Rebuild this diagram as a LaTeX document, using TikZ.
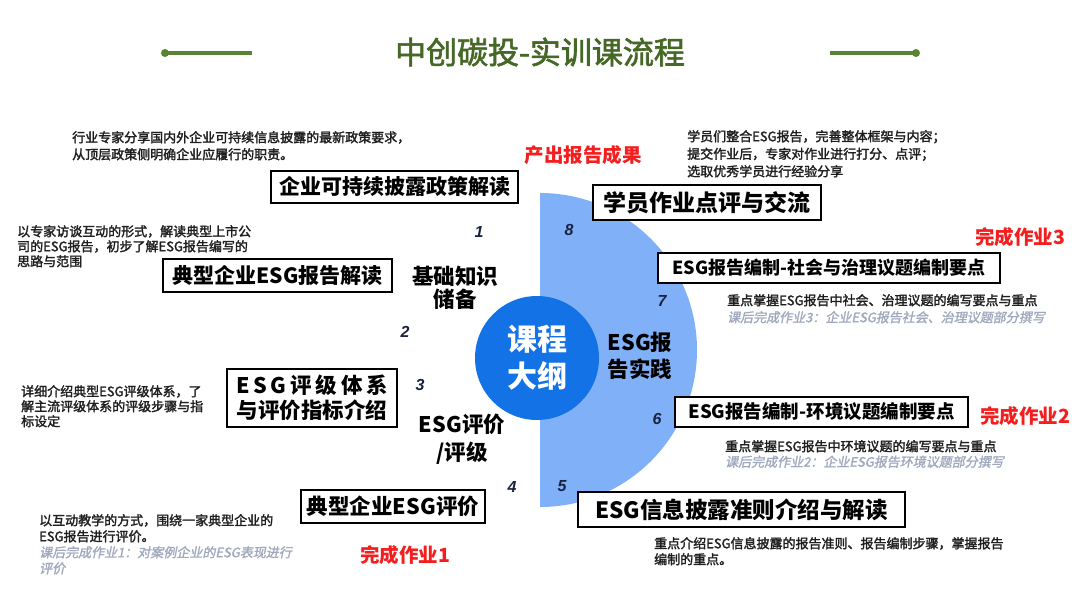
\documentclass[tikz,border=0pt]{standalone}
\usepackage{fontspec}
\setmainfont{Noto Sans CJK SC}
\newfontfamily\numfont{Liberation Sans}
\newfontfamily\slantfont{Noto Sans CJK SC}[FakeSlant=0.2,FakeBold=1.5]
\newfontfamily\descfont{Noto Sans CJK SC}[FakeBold=2]
\usetikzlibrary{positioning}
\definecolor{titlegreen}{RGB}{70,104,38}
\definecolor{linegreen}{RGB}{88,132,52}
\definecolor{hubblue}{RGB}{18,114,230}
\definecolor{halfblue}{RGB}{128,176,248}
\definecolor{numnavy}{RGB}{25,35,65}
\definecolor{hwred}{RGB}{245,30,30}
\definecolor{notegrey}{RGB}{160,168,190}
\newcommand{\hwnote}[1]{{\color{notegrey}\slantfont #1}}

\begin{document}
\begin{tikzpicture}[
  x=1pt, y=-1pt,
  box/.style={draw, line width=1.5pt, fill=white, inner sep=0pt, align=center, font=\bfseries\fontsize{#1}{#1}\selectfont},
  box/.default=21,
  desc/.style={anchor=north west, inner sep=0pt, align=left, text=black!88, font=\descfont\fontsize{13}{#1}\selectfont},
  desc/.default=16,
  num/.style={text=numnavy, font=\numfont\bfseries\itshape\fontsize{16}{16}\selectfont},
  hw/.style={text=hwred, font=\bfseries\fontsize{19.5}{20}\selectfont},
  part/.style={align=center, font=\bfseries\fontsize{21.5}{#1}\selectfont},
  part/.default=24
]
\useasboundingbox (0,0) rectangle (1080,607);
\fill[white] (0,0) rectangle (1080,607);

% title bar
\node[text=titlegreen, font=\descfont\fontsize{31}{31}\selectfont] (title) at (540,52) {中创碳投-实训课流程};
\coordinate (lbarA) at (165,53);
\coordinate (lbarB) at (252,53);
\coordinate (rbarA) at (830,53);
\coordinate (rbarB) at (916,53);
\draw[linegreen, line width=3.5pt] (lbarA) -- (lbarB);
\draw[linegreen, line width=3.5pt] (rbarA) -- (rbarB);
\fill[linegreen] (lbarA) circle[radius=4];
\fill[linegreen] (rbarB) circle[radius=4];

% half disc and hub
\begin{scope}
  \clip (540,150) rectangle (760,560);
  \fill[halfblue] (540,350) circle[radius=157];
\end{scope}
\node[circle, fill=hubblue, minimum size=124pt, inner sep=0pt, text=white, align=center,
  font=\bfseries\fontsize{30}{37}\selectfont] (hub) at (537,358) {课程\\大纲};

\node[part=23] (basics) at (455,288) {基础知识\\储备};
\node[part=28] (rating) at (462,439) {ESG评价\\/评级};
\node[part=27] (practice) at (640,356) {ESG报\\告实践};

% course steps
\node[box, minimum width=247pt, minimum height=32pt] (policy) at (394.5,187) {企业可持续披露政策解读};
\node[box, minimum width=229pt, minimum height=33pt] (report) at (277.5,275.5) {典型企业ESG报告解读};
\node[box=21.5, minimum width=170pt, minimum height=58pt, font=\bfseries\fontsize{21.5}{25}\selectfont] (system) at (312,398)
  {\makebox[152pt][s]{E\hfil S\hfil G\hfil 评\hfil 级\hfil 体\hfil 系}\\与评价指标介绍};
\node[box=21.5, minimum width=184pt, minimum height=33pt] (evaluate) at (393,506.5) {典型企业ESG评价};
\node[box=22.5, minimum width=327pt, minimum height=35pt] (standard) at (741.5,509.5) {ESG信息披露准则介绍与解读};
\node[box=18.5, minimum width=293pt, minimum height=30pt] (environ) at (821.5,412) {ESG报告编制-环境议题编制要点};
\node[box=18, minimum width=342pt, minimum height=30pt] (social) at (829,268) {ESG报告编制-社会与治理议题编制要点};
\node[box=23, minimum width=228pt, minimum height=35pt] (review) at (707,202.5) {学员作业点评与交流};

% step numbers
\node[num] (n1) at (479,232) {1};
\node[num] (n2) at (405,332) {2};
\node[num] (n3) at (420,385) {3};
\node[num] (n4) at (512,487) {4};
\node[num] (n5) at (562,486) {5};
\node[num] (n6) at (657,419) {6};
\node[num] (n7) at (662,301) {7};
\node[num] (n8) at (569,230) {8};

% homework marks
\node[hw] (output) at (583,155) {产出报告成果};
\node[hw] (hw3) at (1020,237) {完成作业3};
\node[hw] (hw2) at (1025,416) {完成作业2};
\node[hw] (hw1) at (405,555) {完成作业1};

% descriptions
\node[desc=17] (policytxt) at (72,131) {行业专家分享国内外企业可持续信息披露的最新政策要求，\\从顶层政策侧明确企业应履行的职责。};
\node[desc=17.5] (reviewtxt) at (687,130) {学员们整合ESG报告，完善整体框架与内容；\\提交作业后，专家对作业进行打分、点评；\\选取优秀学员进行经验分享};
\node[desc=15] (reporttxt) at (17,225) {以专家访谈互动的形式，解读典型上市公\\司的ESG报告，初步了解ESG报告编写的\\思路与范围};
\node[desc=17] (socialtxt) at (727,294) {重点掌握ESG报告中社会、治理议题的编写要点与重点\\\hwnote{课后完成作业3：企业ESG报告社会、治理议题部分撰写}};
\node[desc=15] (systemtxt) at (21,385) {详细介绍典型ESG评级体系，了\\解主流评级体系的评级步骤与指\\标设定};
\node[desc=15.5] (environtxt) at (725,440) {重点掌握ESG报告中环境议题的编写要点与重点\\\hwnote{课后完成作业2：企业ESG报告环境议题部分撰写}};
\node[desc=16] (evaluatetxt) at (39,514) {以互动教学的方式，围绕一家典型企业的\\ESG报告进行评价。\\\hwnote{课后完成作业1：对案例企业的ESG表现进行}\\\hwnote{评价}};
\node[desc=16] (standardtxt) at (654,537) {重点介绍ESG信息披露的报告准则、报告编制步骤，掌握报告\\编制的重点。};
\end{tikzpicture}
\end{document}
